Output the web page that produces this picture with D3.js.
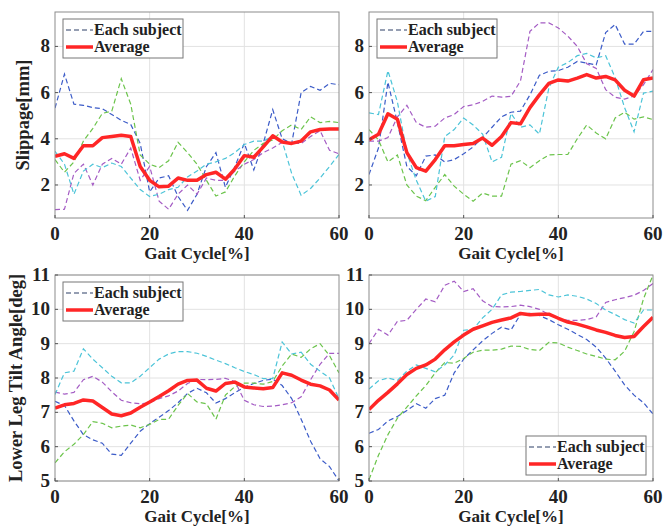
<!DOCTYPE html>
<html>
<head>
<meta charset="utf-8">
<script src="https://cdn.jsdelivr.net/npm/d3@7"></script>
<style>
  body { margin: 0; background: #fff; }
  text { font-family: "Liberation Serif", "Times New Roman", serif; font-weight: bold; fill: #222; }
</style>
</head>
<body>
<div id="chart"></div>
<script>
var gait = [0, 2, 4, 6, 8, 10, 12, 14, 16, 18, 20, 22, 24, 26, 28, 30,
            32, 34, 36, 38, 40, 42, 44, 46, 48, 50, 52, 54, 56, 58, 60];

// slippage, left leg (top-left)
var slipL_blue   = [5.33, 6.8, 5.5, 5.45, 5.35, 5.3, 5.05, 4.8, 4.62, 3.8, 1.7, 2.3, 2.4, 1.5, 0.9, 1.6, 2.8, 3.4, 1.9, 2.8, 3.8, 2.65, 3.8, 5.26, 4.0, 3.8, 6.0, 6.27, 6.1, 6.4, 6.34];
var slipL_green  = [3.1, 2.55, 3.0, 3.9, 4.45, 5.1, 5.2, 6.6, 5.5, 3.3, 2.9, 2.75, 3.05, 3.85, 3.4, 2.9, 2.2, 1.52, 1.7, 2.4, 3.0, 3.5, 3.8, 3.95, 4.35, 4.6, 4.4, 4.95, 4.7, 4.75, 4.7];
var slipL_purple = [0.93, 0.95, 2.5, 2.9, 2.0, 2.9, 3.15, 2.9, 3.6, 2.2, 2.8, 1.3, 0.95, 1.6, 2.0, 1.6, 2.3, 2.2, 2.2, 2.6, 2.9, 3.1, 3.4, 3.6, 3.85, 3.8, 3.8, 4.1, 4.35, 3.5, 3.35];
var slipL_cyan   = [3.46, 2.9, 1.6, 2.6, 2.9, 2.75, 2.95, 2.8, 2.3, 1.8, 1.5, 1.6, 1.8, 1.9, 2.35, 2.6, 2.9, 3.0, 3.15, 3.4, 3.75, 3.9, 3.9, 4.1, 3.9, 2.5, 1.55, 1.85, 2.3, 2.8, 3.32];
var slipL_avg    = [3.24, 3.35, 3.15, 3.7, 3.7, 4.05, 4.1, 4.15, 4.1, 2.8, 2.2, 1.92, 1.95, 2.3, 2.2, 2.2, 2.45, 2.55, 2.25, 2.7, 3.27, 3.2, 3.65, 4.13, 3.86, 3.8, 3.9, 4.3, 4.4, 4.42, 4.42];

// slippage, right leg (top-right)
var slipR_blue   = [2.45, 3.6, 6.45, 4.7, 2.8, 2.4, 3.25, 3.3, 3.0, 3.1, 3.35, 3.65, 4.05, 4.5, 4.95, 5.15, 5.2, 5.9, 6.75, 6.92, 6.95, 7.1, 7.35, 7.28, 7.2, 8.6, 8.95, 8.1, 8.1, 8.65, 8.65];
var slipR_green  = [4.4, 3.95, 3.0, 3.3, 2.0, 1.52, 1.32, 1.9, 2.45, 1.95, 1.6, 1.3, 1.65, 1.52, 1.52, 2.9, 3.05, 2.75, 3.05, 3.3, 3.32, 3.32, 4.0, 4.6, 4.25, 4.0, 4.9, 5.15, 4.85, 4.95, 4.83];
var slipR_purple = [3.9, 3.9, 4.05, 4.95, 5.45, 4.7, 4.5, 4.55, 4.9, 5.05, 5.4, 5.47, 5.62, 5.85, 5.8, 5.84, 6.5, 8.65, 9.02, 9.02, 8.8, 8.45, 8.0, 7.25, 7.05, 6.13, 5.8, 5.72, 5.85, 6.34, 7.0];
var slipR_cyan   = [5.12, 5.05, 6.95, 5.6, 3.4, 2.2, 1.3, 1.5, 4.1, 4.4, 4.9, 4.6, 4.2, 3.0, 3.2, 5.1, 4.5, 4.6, 4.2, 6.2, 7.1, 7.3, 7.6, 7.7, 7.5, 7.6, 6.65, 5.35, 4.3, 5.98, 6.06];
var slipR_avg    = [3.96, 4.2, 5.08, 4.85, 3.4, 2.75, 2.6, 3.1, 3.7, 3.7, 3.75, 3.8, 4.03, 3.72, 4.1, 4.7, 4.65, 5.35, 5.9, 6.4, 6.55, 6.5, 6.63, 6.78, 6.63, 6.7, 6.55, 6.1, 5.85, 6.56, 6.63];

// lower leg tilt, left (bottom-left)
var tiltL_blue   = [7.32, 7.2, 6.75, 6.35, 6.2, 6.1, 5.78, 5.75, 6.1, 6.45, 6.67, 6.86, 7.05, 7.28, 7.55, 7.7, 7.57, 7.27, 7.4, 7.57, 7.73, 7.84, 7.93, 7.97, 7.78, 7.4, 6.8, 6.16, 5.65, 5.42, 5.0];
var tiltL_green  = [5.53, 5.85, 6.07, 6.35, 6.73, 6.68, 6.55, 6.6, 6.63, 6.55, 6.65, 6.79, 6.8, 7.2, 7.55, 7.3, 7.25, 6.8, 7.5, 7.75, 7.85, 7.85, 7.82, 7.9, 8.35, 8.7, 8.6, 8.85, 9.0, 8.65, 8.15];
var tiltL_purple = [7.59, 7.53, 7.58, 7.95, 8.05, 7.88, 7.6, 7.35, 7.28, 7.25, 7.28, 7.4, 7.48, 7.62, 7.84, 7.96, 7.95, 7.96, 7.99, 7.9, 7.35, 7.22, 7.17, 7.18, 7.22, 7.28, 7.45, 7.95, 8.4, 8.72, 8.72];
var tiltL_cyan   = [7.52, 8.15, 8.2, 8.85, 8.55, 8.3, 8.05, 7.86, 7.86, 8.05, 8.3, 8.55, 8.7, 8.77, 8.77, 8.72, 8.63, 8.52, 8.42, 8.3, 8.19, 8.1, 7.98, 7.98, 9.05, 8.7, 8.75, 8.4, 8.2, 8.0, 7.4];
var tiltL_avg    = [7.12, 7.22, 7.26, 7.36, 7.33, 7.14, 6.95, 6.9, 6.98, 7.15, 7.3, 7.46, 7.63, 7.82, 7.93, 7.94, 7.7, 7.62, 7.84, 7.88, 7.74, 7.71, 7.69, 7.72, 8.15, 8.08, 7.94, 7.82, 7.77, 7.65, 7.36];

// lower leg tilt, right (bottom-right)
var tiltR_blue   = [6.39, 6.5, 6.75, 6.88, 7.05, 7.25, 7.12, 7.4, 7.5, 8.15, 8.55, 8.82, 9.08, 9.3, 9.48, 9.4, 9.85, 9.88, 9.82, 9.7, 9.55, 9.42, 9.27, 9.12, 8.9, 8.58, 8.2, 7.8, 7.5, 7.28, 6.95];
var tiltR_green  = [5.04, 5.75, 6.35, 6.83, 7.15, 7.48, 7.78, 8.15, 8.45, 8.43, 8.57, 8.75, 8.81, 8.81, 8.84, 8.93, 8.92, 8.83, 8.8, 9.04, 9.02, 8.9, 8.8, 8.7, 8.63, 8.55, 8.53, 8.78, 9.35, 10.31, 11.0];
var tiltR_purple = [9.0, 9.42, 9.25, 9.65, 9.68, 10.0, 10.3, 10.22, 10.7, 10.82, 10.52, 10.6, 10.25, 10.08, 10.07, 10.08, 10.12, 10.08, 10.0, 9.85, 9.72, 9.68, 9.68, 9.7, 9.78, 10.2, 10.28, 10.34, 10.41, 10.55, 10.75];
var tiltR_cyan   = [7.68, 7.92, 8.0, 7.93, 8.2, 8.38, 8.28, 8.18, 8.38, 8.67, 9.39, 9.42, 9.75, 10.0, 10.42, 10.5, 10.52, 10.55, 10.58, 10.42, 10.36, 10.42, 10.38, 10.3, 10.17, 9.98, 9.85, 9.7, 9.6, 9.98, 9.98];
var tiltR_avg    = [7.08, 7.35, 7.58, 7.83, 8.1, 8.28, 8.38, 8.55, 8.82, 9.05, 9.25, 9.42, 9.52, 9.62, 9.69, 9.75, 9.88, 9.84, 9.86, 9.86, 9.74, 9.63, 9.57, 9.49, 9.4, 9.33, 9.24, 9.18, 9.21, 9.5, 9.77];

var xTicks = [0, 20, 40, 60],
    slipTicks = [2, 4, 6, 8],
    tiltTicks = [5, 6, 7, 8, 9, 10, 11],
    slipDomain = [0.57, 9.49],
    tiltDomain = [5, 11],
    xLabel = 'Gait Cycle[%]',
    slipLabel = 'Slippage[mm]',
    tiltLabel = 'Lower Leg Tilt Angle[deg]',
    legendNames = ['Each subject', 'Average'];

var subjectColors = ['#3c5cc8', '#6cc44c', '#a45cc4', '#4cc4d8'],
    avgColor = '#ff2626';

var width = 671, height = 531,
    svg = d3.select('#chart').append('svg')
        .attr('width', width)
        .attr('height', height);

var panels = [
    { left: 55,  top: 12,  subjects: [slipL_blue, slipL_green, slipL_purple, slipL_cyan], avg: slipL_avg,
      domain: slipDomain, ticks: slipTicks, ylabel: slipLabel, ylabelX: 29, legend: 'tl' },
    { left: 369, top: 12,  subjects: [slipR_blue, slipR_green, slipR_purple, slipR_cyan], avg: slipR_avg,
      domain: slipDomain, ticks: slipTicks, legend: 'tl' },
    { left: 55,  top: 275, subjects: [tiltL_blue, tiltL_green, tiltL_purple, tiltL_cyan], avg: tiltL_avg,
      domain: tiltDomain, ticks: tiltTicks, ylabel: tiltLabel, ylabelX: 22, legend: 'tl' },
    { left: 369, top: 275, subjects: [tiltR_blue, tiltR_green, tiltR_purple, tiltR_cyan], avg: tiltR_avg,
      domain: tiltDomain, ticks: tiltTicks, legend: 'br' }
];

var pw = 284, ph = 206;

panels.forEach(function(p, i) {
    var x = d3.scaleLinear().domain([0, 60]).range([p.left, p.left + pw]),
        y = d3.scaleLinear().domain(p.domain).range([p.top + ph, p.top]),
        g = svg.append('g'),
        clipId = 'clip' + i,
        line;

    g.append('clipPath').attr('id', clipId)
        .append('rect')
        .attr('x', p.left).attr('y', p.top)
        .attr('width', pw).attr('height', ph);

    // grid
    g.selectAll('.vgrid').data(xTicks.slice(1, -1)).enter().append('line')
        .attr('x1', function(d) { return x(d); })
        .attr('x2', function(d) { return x(d); })
        .attr('y1', p.top).attr('y2', p.top + ph)
        .style('stroke', '#e2e2e2');
    g.selectAll('.hgrid').data(p.ticks).enter().append('line')
        .attr('x1', p.left).attr('x2', p.left + pw)
        .attr('y1', function(d) { return y(d); })
        .attr('y2', function(d) { return y(d); })
        .style('stroke', '#e2e2e2');

    line = d3.line()
        .x(function(d, j) { return x(gait[j]); })
        .y(function(d) { return y(d); });

    var plot = g.append('g').attr('clip-path', 'url(#' + clipId + ')');
    p.subjects.forEach(function(s, k) {
        plot.append('path')
            .datum(s)
            .attr('d', line)
            .style('fill', 'none')
            .style('stroke', subjectColors[k])
            .style('stroke-width', 1.2)
            .style('stroke-dasharray', '5,3');
    });
    plot.append('path')
        .datum(p.avg)
        .attr('d', line)
        .style('fill', 'none')
        .style('stroke', avgColor)
        .style('stroke-width', 3.5)
        .style('stroke-linejoin', 'round');

    // box and ticks
    g.append('rect')
        .attr('x', p.left).attr('y', p.top)
        .attr('width', pw).attr('height', ph)
        .style('fill', 'none')
        .style('stroke', '#8c8c8c')
        .style('stroke-width', 1);
    g.selectAll('.xt').data(xTicks).enter().append('line')
        .attr('x1', function(d) { return x(d); })
        .attr('x2', function(d) { return x(d); })
        .attr('y1', p.top + ph).attr('y2', p.top + ph - 3)
        .style('stroke', '#555');
    g.selectAll('.yt').data(p.ticks).enter().append('line')
        .attr('x1', p.left).attr('x2', p.left + 3)
        .attr('y1', function(d) { return y(d); })
        .attr('y2', function(d) { return y(d); })
        .style('stroke', '#555');

    g.selectAll('.xl').data(xTicks).enter().append('text')
        .attr('x', function(d) { return x(d); })
        .attr('y', p.top + ph + 22)
        .attr('text-anchor', 'middle')
        .style('font-size', '19px')
        .text(function(d) { return d; });
    g.selectAll('.yl').data(p.ticks).enter().append('text')
        .attr('x', p.left - 5)
        .attr('y', function(d) { return y(d) + 6; })
        .attr('text-anchor', 'end')
        .style('font-size', '19px')
        .text(function(d) { return d; });

    g.append('text')
        .attr('x', p.left + pw / 2)
        .attr('y', p.top + ph + 41)
        .attr('text-anchor', 'middle')
        .style('font-size', '17px')
        .text(xLabel);

    if (p.ylabel) {
        g.append('text')
            .attr('transform', 'translate(' + p.ylabelX + ',' + (p.top + ph / 2) + ') rotate(-90)')
            .attr('text-anchor', 'middle')
            .style('font-size', '18.5px')
            .text(p.ylabel);
    }

    // legend
    var lx, ly, lw = 120, lh = 39;
    if (p.legend === 'tl') {
        lx = p.left + 8; ly = p.top + 7;
    } else {
        lx = p.left + pw - lw - 7; ly = p.top + ph - lh - 6;
    }
    var lg = g.append('g');
    lg.append('rect')
        .attr('x', lx).attr('y', ly)
        .attr('width', lw).attr('height', lh)
        .style('fill', '#fff')
        .style('stroke', '#777');
    lg.append('line')
        .attr('x1', lx + 3).attr('x2', lx + 30)
        .attr('y1', ly + 11).attr('y2', ly + 11)
        .style('stroke', '#2c3e66')
        .style('stroke-width', 1.2)
        .style('stroke-dasharray', '5,3');
    lg.append('line')
        .attr('x1', lx + 3).attr('x2', lx + 30)
        .attr('y1', ly + 28).attr('y2', ly + 28)
        .style('stroke', avgColor)
        .style('stroke-width', 3.5);
    lg.selectAll('.lt').data(legendNames).enter().append('text')
        .attr('x', lx + 31)
        .attr('y', function(d, j) { return ly + 16 + j * 17; })
        .style('font-size', '16px')
        .text(function(d) { return d; });
});
</script>
</body>
</html>
